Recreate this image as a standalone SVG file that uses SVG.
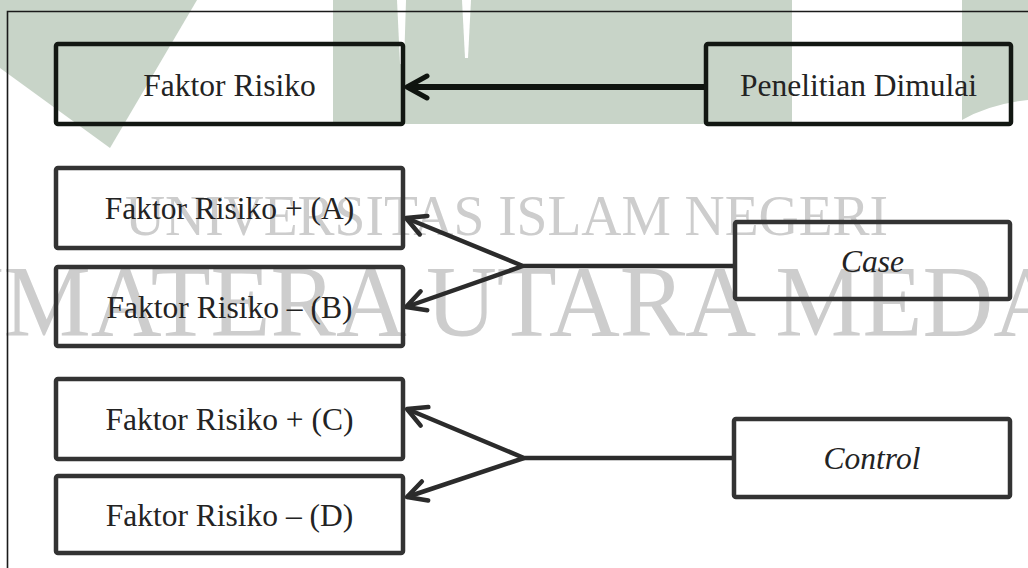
<svg xmlns="http://www.w3.org/2000/svg" width="1028" height="568" viewBox="0 0 1028 568">
  <style>
    .wm-shape { fill: #c8d4c8; }
    .wm-text { fill: #cdcdcd; font-family: "Liberation Serif", "Times New Roman", serif; }
    .box { fill: none; stroke-width: 4.5; }
    .box-dark { stroke: #121712; }
    .box-grey { stroke: #333333; }
    .label { font-family: "Liberation Serif", "Times New Roman", serif; font-size: 31.5px; fill: #232323; text-anchor: middle; }
    .italic { font-style: italic; }
    .conn-dark { fill: none; stroke: #0f140f; stroke-width: 6; }
    .conn { fill: none; stroke: #2b2b2b; stroke-width: 4.5; stroke-linejoin: round; }
  </style>
  <defs>
    <marker id="arrowDark" markerUnits="userSpaceOnUse" viewBox="-24 -14 28 28" refX="0" refY="0" markerWidth="28" markerHeight="28" orient="auto">
      <path d="M-20,-11 L0,0 L-20,11" fill="none" stroke="#0f140f" stroke-width="5" stroke-linecap="round" stroke-linejoin="round"/>
    </marker>
    <marker id="arrowGrey" markerUnits="userSpaceOnUse" viewBox="-24 -14 28 28" refX="0" refY="0" markerWidth="28" markerHeight="28" orient="auto">
      <path d="M-19,-10 L0,0 L-19,10" fill="none" stroke="#2b2b2b" stroke-width="4.5" stroke-linecap="round" stroke-linejoin="round"/>
    </marker>
  </defs>

  <rect x="0" y="0" width="1028" height="568" fill="#ffffff"/>

  <g id="watermark">
    <polygon class="wm-shape" points="0,0 197,0 110,148 0,68"/>
    <rect class="wm-shape" x="333" y="0" width="459" height="124"/>
    <polygon points="397,0 406,0 404,64 400,64" fill="#ffffff"/>
    <polygon points="462,0 471,0 468,58 465,58" fill="#ffffff"/>
    <path class="wm-shape" d="M962,0 H1028 V100 Q990,104 962,120 Z"/>
    <text class="wm-text" x="125" y="235" font-size="57" textLength="763" lengthAdjust="spacingAndGlyphs">UNIVERSITAS ISLAM NEGERI</text>
    <text class="wm-text" x="-122" y="336" font-size="102" textLength="1257" lengthAdjust="spacingAndGlyphs">SUMATERA UTARA MEDAN</text>
  </g>

  <g id="frame">
    <path d="M7.5,568 V11.5 H1028" fill="none" stroke="#1a1a1a" stroke-width="1.6"/>
  </g>

  <g id="connectors">
    <path class="conn-dark" d="M706,87 H407" marker-end="url(#arrowDark)"/>
    <path class="conn" d="M735,266 H523 L406,218" marker-end="url(#arrowGrey)"/>
    <path class="conn" d="M523,266 L406,307" marker-end="url(#arrowGrey)"/>
    <path class="conn" d="M734,458 H524 L407,409" marker-end="url(#arrowGrey)"/>
    <path class="conn" d="M524,458 L407,497" marker-end="url(#arrowGrey)"/>
  </g>

  <g id="node-faktor-risiko">
    <rect class="box box-dark" x="56" y="44" width="347" height="80" rx="2"/>
    <text class="label" x="229.5" y="95.5">Faktor Risiko</text>
  </g>
  <g id="node-penelitian-dimulai">
    <rect class="box box-dark" x="706" y="44" width="305" height="80" rx="2"/>
    <text class="label" x="858.5" y="95.5">Penelitian Dimulai</text>
  </g>
  <g id="node-faktor-a">
    <rect class="box box-grey" x="56" y="168" width="347" height="80" rx="2"/>
    <text class="label" x="229.5" y="219">Faktor Risiko + (A)</text>
  </g>
  <g id="node-faktor-b">
    <rect class="box box-grey" x="56" y="267" width="347" height="79" rx="2"/>
    <text class="label" x="229.5" y="317.5">Faktor Risiko – (B)</text>
  </g>
  <g id="node-case">
    <rect class="box box-grey" x="735" y="222" width="275" height="77" rx="2"/>
    <text class="label italic" x="872.5" y="271.5">Case</text>
  </g>
  <g id="node-faktor-c">
    <rect class="box box-grey" x="56" y="379" width="347" height="80" rx="2"/>
    <text class="label" x="229.5" y="430">Faktor Risiko + (C)</text>
  </g>
  <g id="node-faktor-d">
    <rect class="box box-grey" x="56" y="476" width="347" height="77" rx="2"/>
    <text class="label" x="229.5" y="525.5">Faktor Risiko – (D)</text>
  </g>
  <g id="node-control">
    <rect class="box box-grey" x="734" y="419" width="276" height="78" rx="2"/>
    <text class="label italic" x="872" y="469">Control</text>
  </g>
</svg>
